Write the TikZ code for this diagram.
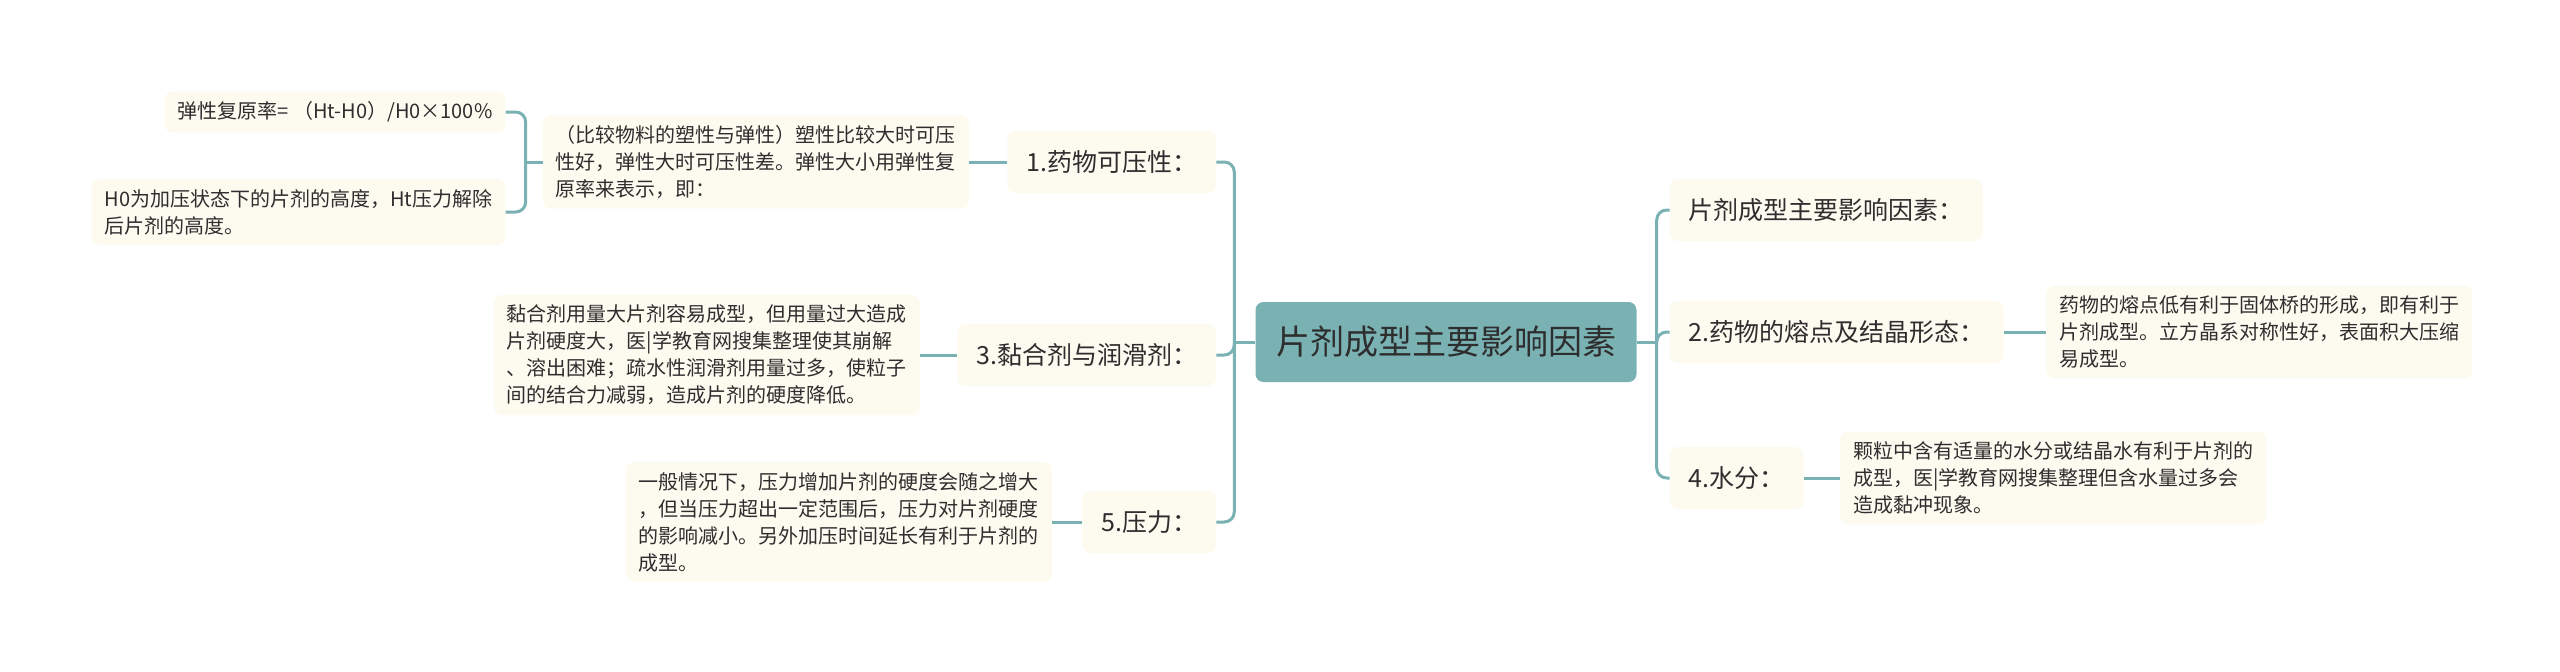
\documentclass[tikz,border=0pt]{standalone}
\usepackage{fontspec}
\usepackage{xcolor}
\newfontfamily\cjk{Noto Sans CJK SC}
\usetikzlibrary{positioning}

\definecolor{trunk}{HTML}{7AB2B4}
\definecolor{cream}{HTML}{FDFAF0}
\definecolor{ink}{HTML}{2E2E2E}

\begin{document}
\begin{tikzpicture}[x=1pt, y=-1pt,
	root/.style={fill=trunk, rounded corners=8pt, text=ink, minimum width=381pt, minimum height=80pt, font=\cjk\fontsize{34}{40}\selectfont},
	mid/.style={fill=cream, rounded corners=8pt, text=ink, inner xsep=19pt, minimum height=62pt, font=\cjk\fontsize{25}{30}\selectfont},
	leaf/.style={fill=cream, rounded corners=8pt, text=ink, align=left, inner xsep=13pt, inner ysep=10pt, font=\cjk\fontsize{20}{27}\selectfont},
	link/.style={draw=trunk, line width=3pt, rounded corners=10pt}]
	\useasboundingbox (0,0) rectangle (2560,672);
	\node[root] (root) at (1446,342) {片剂成型主要影响因素};
	% left side
	\node[mid, left=39pt of root, yshift=180pt] (k1) {1.药物可压性：};
	\node[mid, left=39pt of root, yshift=-13pt] (k3) {3.黏合剂与润滑剂：};
	\node[mid, left=39pt of root, yshift=-180pt] (k5) {5.压力：};
	\node[leaf, left=38pt of k1] (d1) {（比较物料的塑性与弹性）塑性比较大时可压\\性好，弹性大时可压性差。弹性大小用弹性复\\原率来表示，即：};
	\node[leaf, left=37pt of d1, yshift=50pt] (d1a) {弹性复原率=~（Ht-H0）/H0×100\%};
	\node[leaf, left=37pt of d1, yshift=-50pt] (d1b) {H0为加压状态下的片剂的高度，Ht压力解除\\后片剂的高度。};
	\node[leaf, left=37pt of k3] (d3) {黏合剂用量大片剂容易成型，但用量过大造成\\片剂硬度大，医|学教育网搜集整理使其崩解\\、溶出困难；疏水性润滑剂用量过多，使粒子\\间的结合力减弱，造成片剂的硬度降低。};
	\node[leaf, left=30pt of k5] (d5) {一般情况下，压力增加片剂的硬度会随之增大\\，但当压力超出一定范围后，压力对片剂硬度\\的影响减小。另外加压时间延长有利于片剂的\\成型。};
	% right side
	\node[mid, right=33pt of root, yshift=132pt] (k0) {片剂成型主要影响因素：};
	\node[mid, right=33pt of root, yshift=10pt] (k2) {2.药物的熔点及结晶形态：};
	\node[mid, right=33pt of root, yshift=-136pt] (k4) {4.水分：};
	\node[leaf, right=42pt of k2] (d2) {药物的熔点低有利于固体桥的形成，即有利于\\片剂成型。立方晶系对称性好，表面积大压缩\\易成型。};
	\node[leaf, right=36pt of k4] (d4) {颗粒中含有适量的水分或结晶水有利于片剂的\\成型，医|学教育网搜集整理但含水量过多会\\造成黏冲现象。};

	\draw[link] (root.west) --++(180:21pt) coordinate (lft);
	\draw[link] (k1.east) -| (lft);
	\draw[link] (k3.east) -| (lft);
	\draw[link] (k5.east) -| (lft);
	\draw[link] (root.east) --++(0:20pt) coordinate (rgt);
	\draw[link] (k0.west) -| (rgt);
	\draw[link] (k2.west) -| (rgt);
	\draw[link] (k4.west) -| (rgt);
	\draw[link] (d1.west) --++(180:17pt) coordinate (aux);
	\draw[link] (d1a.east) -| (aux);
	\draw[link] (d1b.east) -| (aux);
	\draw[link] (k1) -- (d1);
	\draw[link] (k3) -- (d3);
	\draw[link] (k5) -- (d5);
	\draw[link] (k2) -- (d2);
	\draw[link] (k4) -- (d4);
\end{tikzpicture}
\end{document}
